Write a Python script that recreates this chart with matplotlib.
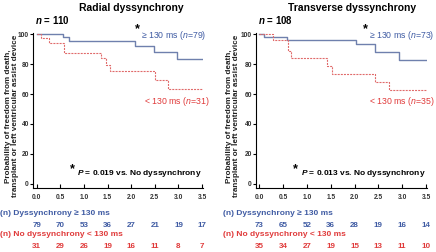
import matplotlib
matplotlib.use("Agg")
import matplotlib.pyplot as plt
import matplotlib.transforms as mtransforms

plt.rcParams['font.family'] = ['Liberation Sans', 'DejaVu Sans']
plt.rcParams['mathtext.fontset'] = 'custom'
plt.rcParams['mathtext.rm'] = 'Liberation Sans'
plt.rcParams['mathtext.it'] = 'Liberation Sans:italic'
plt.rcParams['mathtext.bf'] = 'Liberation Sans:bold'
plt.rcParams['mathtext.bfit'] = 'Liberation Sans:bold:italic'

BLUE = '#3f5ba3'
BLUE_LINE = '#6f80ad'
RED = '#e03a3a'
RED_LINE = '#e06a6a'

# ---------- data ----------
titles = ["Radial dyssynchrony", "Transverse dyssynchrony"]
n_total = ["110", "108"]
p_values = ["0.019", "0.013"]
n_hi = ["79", "73"]
n_lo = ["31", "35"]

# Kaplan-Meier steps (years, % free of event)
radial_hi_t = [0.0, 0.55, 0.68, 2.08, 2.48, 2.97, 3.52]
radial_hi_s = [100, 98.5, 95.8, 92.0, 88.3, 83.4, 83.4]
radial_lo_t = [0.0, 0.08, 0.26, 0.58, 1.37, 1.47, 1.56, 2.5, 2.77, 3.52]
radial_lo_s = [100, 97.5, 94.4, 87.6, 84.2, 79.8, 75.6, 69.6, 63.3, 63.3]

trans_hi_t = [0.0, 0.09, 0.58, 2.02, 2.43, 2.93, 3.5]
trans_hi_s = [100, 98.5, 96.3, 93.3, 88.4, 82.9, 82.9]
trans_lo_t = [0.0, 0.29, 0.6, 0.67, 1.42, 1.53, 2.42, 2.73, 3.5]
trans_lo_s = [100, 96.6, 89.0, 84.2, 78.9, 73.6, 68.2, 62.6, 62.6]

risk_times = [0.0, 0.5, 1.0, 1.5, 2.0, 2.5, 3.0, 3.5]
radial_risk_hi = [79, 70, 53, 36, 27, 21, 19, 17]
radial_risk_lo = [31, 29, 26, 19, 16, 11, 8, 7]
trans_risk_hi = [73, 65, 52, 36, 28, 19, 16, 14]
trans_risk_lo = [35, 34, 27, 19, 15, 13, 11, 10]

x_ticks = [0.0, 0.5, 1.0, 1.5, 2.0, 2.5, 3.0, 3.5]
y_ticks = [0, 20, 40, 60, 80, 100]

W, H = 436, 252
fig = plt.figure(figsize=(W / 100, H / 100), dpi=100)

panels = [
    dict(rect=[33 / W, 1 - 188 / H, 170 / W, 155 / H], xlo=-0.08,
         hi=(radial_hi_t, radial_hi_s), lo=(radial_lo_t, radial_lo_s),
         rh=radial_risk_hi, rl=radial_risk_lo, title_x=131 / W, ylab_x=12 / W,
         lbl_x=0 / W, star_top=2.13, lab_hi=2.2, lab_lo=2.26, star_p=0.75, p_x=0.86),
    dict(rect=[256 / W, 1 - 188 / H, 171 / W, 155 / H], xlo=-0.07,
         hi=(trans_hi_t, trans_hi_s), lo=(trans_lo_t, trans_lo_s),
         rh=trans_risk_hi, rl=trans_risk_lo, title_x=352 / W, ylab_x=233 / W,
         lbl_x=223 / W, star_top=2.22, lab_hi=2.3, lab_lo=2.3, star_p=0.76, p_x=0.87),
]

for i, p in enumerate(panels):
    ax = fig.add_axes(p['rect'])
    ax.step(p['hi'][0], p['hi'][1], where='post', color=BLUE_LINE, lw=1.0)
    ax.step(p['lo'][0], p['lo'][1], where='post', color=RED_LINE, lw=0.8,
            linestyle=(0, (1.8, 1.0)))
    ax.set_xlim(p['xlo'], 3.52)
    ax.set_ylim(-3, 101)
    ax.spines['top'].set_visible(False)
    ax.spines['right'].set_visible(False)
    ax.spines['left'].set_linewidth(0.8)
    ax.spines['bottom'].set_linewidth(0.8)
    ax.set_xticks(x_ticks)
    ax.set_xticklabels([f"{t:.1f}" for t in x_ticks])
    ax.set_yticks(y_ticks)
    ax.tick_params(axis='x', direction='in', length=3, width=0.8, labelsize=4.8, pad=4)
    ax.tick_params(axis='y', direction='out', length=2, width=0.8, labelsize=4.8, pad=1)
    for lab in ax.get_xticklabels() + ax.get_yticklabels():
        lab.set_fontweight('bold')
        lab.set_color('#333333')

    # curve labels
    ax.text(p['lab_hi'], 99.0,
            "\u2265 130 ms (" + r"$\mathit{n}$" + f"={n_hi[i]})",
            color=BLUE, fontsize=6.3, va='center', ha='left', clip_on=False)
    ax.text(p['lab_lo'], 55.0,
            "< 130 ms (" + r"$\mathit{n}$" + f"={n_lo[i]})",
            color=RED, fontsize=6.3, va='center', ha='left', clip_on=False)
    ax.text(p['star_top'], 103.5, "*", color='black', fontsize=9,
            fontweight='bold', ha='center', va='center', clip_on=False)
    ax.text(p['star_p'], 9.5, "*", color='black', fontsize=9,
            fontweight='bold', ha='center', va='center')
    ax.text(p['p_x'], 7.0,
            r"$\mathbfit{P}$" + f" = {p_values[i]} vs. No dyssynchrony",
            color='black', fontsize=6.0, fontweight='bold', va='center', ha='left')

    # titles and n
    fig.text(p['title_x'], 1 - 8 / H, titles[i], fontsize=7.5, fontweight='bold',
             ha='center', va='center')
    fig.text(p['rect'][0] + 2 / W, 1 - 20 / H,
             r"$\mathbfit{n}$" + f" = {n_total[i]}", fontsize=7, fontweight='bold',
             ha='left', va='center')
    fig.text(p['ylab_x'], (1 - 116 / H),
             "Probability of freedom from death,\ntransplant or left ventricular assist device",
             rotation=90, fontsize=5.9, fontweight='bold', ha='center', va='center',
             linespacing=0.85, color='#222222')

    # number at risk
    fig.text(p['lbl_x'], 1 - 213.5 / H, "(n) Dyssynchrony \u2265 130 ms",
             color=BLUE, fontsize=6, fontweight='bold', ha='left', va='center')
    fig.text(p['lbl_x'], 1 - 234.5 / H, "(n) No dyssynchrony < 130 ms",
             color=RED, fontsize=6, fontweight='bold', ha='left', va='center')
    trans = mtransforms.blended_transform_factory(ax.transData, fig.transFigure)
    for t, v in zip(risk_times, p['rh']):
        ax.text(t, 1 - 225.5 / H, str(v), transform=trans, color=BLUE, fontsize=5.8,
                fontweight='bold', ha='center', va='center', clip_on=False)
    for t, v in zip(risk_times, p['rl']):
        ax.text(t, 1 - 246 / H, str(v), transform=trans, color=RED, fontsize=5.8,
                fontweight='bold', ha='center', va='center', clip_on=False)

fig.savefig("out.png", dpi=100)
